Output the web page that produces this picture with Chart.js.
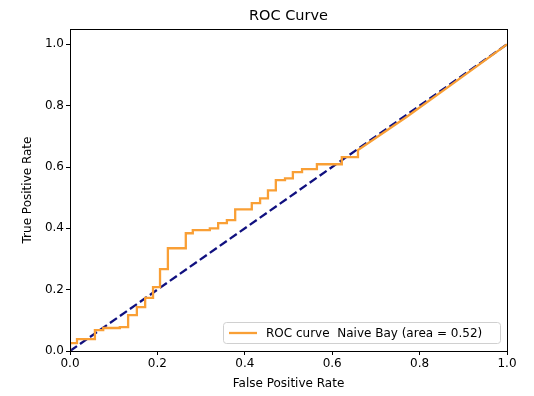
<!DOCTYPE html>
<html>
<head>
<meta charset="utf-8">
<script src="https://cdn.jsdelivr.net/npm/chart.js@4.4.1/dist/chart.umd.min.js"></script>
<style>
	html, body { margin: 0; padding: 0; background: #fff; }
	#wrap { width: 534px; height: 396px; }
</style>
</head>
<body>
<div id="wrap"><canvas id="myChart" width="534" height="396"></canvas></div>
<script>
// ROC curve vertices
var fpr = [0, 0, 0.016, 0.016, 0.057, 0.057, 0.076, 0.076, 0.114, 0.114, 0.133, 0.133,
	0.153, 0.153, 0.172, 0.172, 0.19, 0.19, 0.206, 0.206, 0.224, 0.224, 0.265, 0.265,
	0.281, 0.281, 0.32, 0.32, 0.339, 0.339, 0.359, 0.359, 0.378, 0.378, 0.416, 0.416,
	0.435, 0.435, 0.453, 0.453, 0.471, 0.471, 0.492, 0.492, 0.51, 0.51, 0.531, 0.531,
	0.565, 0.565, 0.622, 0.622, 0.659, 0.659, 0.77, 0.88, 1];
var tpr = [0, 0.026, 0.026, 0.039, 0.039, 0.068, 0.068, 0.075, 0.075, 0.078, 0.078, 0.117,
	0.117, 0.143, 0.143, 0.173, 0.173, 0.208, 0.208, 0.267, 0.267, 0.335, 0.335, 0.384,
	0.384, 0.394, 0.394, 0.40, 0.40, 0.417, 0.417, 0.427, 0.427, 0.462, 0.462, 0.482,
	0.482, 0.498, 0.498, 0.524, 0.524, 0.557, 0.557, 0.563, 0.563, 0.583, 0.583, 0.593,
	0.593, 0.609, 0.609, 0.632, 0.632, 0.655, 0.763, 0.876, 1];
var chanceX = [0, 1];
var chanceY = [0, 1];
var rocLabel = "ROC curve  Naive Bay (area = 0.52)";
var chartTitle = "ROC Curve";
var xTitle = "False Positive Rate";
var yTitle = "True Positive Rate";

var FONT = "'DejaVu Sans', sans-serif";

function toPoints(xs, ys) {
	var pts = [];
	for (var i = 0; i < xs.length; i++) pts.push({x: xs[i], y: ys[i]});
	return pts;
}

// frame, title and legend drawn like matplotlib
var mplPlugin = {
	id: "mpl",
	afterDraw: function(chart) {
		var ctx = chart.ctx;
		var a = chart.chartArea;
		ctx.save();
		ctx.strokeStyle = "#000";
		ctx.lineWidth = 1;
		ctx.strokeRect(a.left + 0.5, a.top + 0.5, a.right - a.left, a.bottom - a.top);

		ctx.fillStyle = "#000";
		ctx.font = "14.5px " + FONT;
		ctx.textAlign = "center";
		ctx.textBaseline = "middle";
		ctx.fillText(chartTitle, (a.left + a.right) / 2, 16);

		// legend box, lower right
		var bx = 223, by = 322, bw = 277, bh = 21;
		ctx.fillStyle = "rgba(255,255,255,0.8)";
		ctx.strokeStyle = "#d0d0d0";
		ctx.beginPath();
		ctx.roundRect(bx + 0.5, by + 0.5, bw, bh, 3);
		ctx.fill();
		ctx.stroke();
		var ds = chart.data.datasets[0];
		ctx.strokeStyle = ds.borderColor;
		ctx.lineWidth = 2.3;
		ctx.beginPath();
		ctx.moveTo(229, by + bh / 2 + 0.5);
		ctx.lineTo(257, by + bh / 2 + 0.5);
		ctx.stroke();
		ctx.fillStyle = "#000";
		ctx.font = "12px " + FONT;
		ctx.textAlign = "left";
		ctx.fillText(ds.label, 266, by + bh / 2 + 1);
		ctx.restore();
	}
};

var ctx = document.getElementById("myChart");

var myChart = new Chart(ctx, {
	type: "line",
	data: {
		datasets: [
			{
				label: rocLabel,
				data: toPoints(fpr, tpr),
				borderColor: "#f99f35",
				borderWidth: 2.3,
				fill: false,
				tension: 0,
				pointRadius: 0
			},
			{
				label: "chance",
				data: toPoints(chanceX, chanceY),
				borderColor: "#10107f",
				borderWidth: 2.3,
				borderDash: [8.5, 3.7],
				fill: false,
				tension: 0,
				pointRadius: 0
			}
		]
	},
	options: {
		responsive: false,
		animation: false,
		layout: { padding: { left: 0, right: 27, top: 29, bottom: 0 } },
		plugins: {
			legend: { display: false },
			title: { display: false },
			tooltip: { enabled: false }
		},
		scales: {
			x: {
				type: "linear",
				min: 0,
				max: 1,
				afterFit: function(s) { s.height = 45; },
				grid: { drawOnChartArea: false, drawTicks: true, tickLength: 4, color: "#000" },
				border: { color: "#000" },
				ticks: {
					stepSize: 0.2,
					color: "#000",
					padding: 2,
					maxRotation: 0,
					font: { family: FONT, size: 12 },
					callback: function(v) { return v.toFixed(1); }
				},
				title: {
					display: true,
					text: xTitle,
					color: "#000",
					padding: { top: 2, bottom: 5 },
					font: { family: FONT, size: 12 }
				}
			},
			y: {
				type: "linear",
				min: 0,
				max: 1.05,
				afterFit: function(s) { s.width = 70; },
				afterBuildTicks: function(s) {
					s.ticks = [0, 0.2, 0.4, 0.6, 0.8, 1.0].map(function(v) { return {value: v}; });
				},
				grid: { drawOnChartArea: false, drawTicks: true, tickLength: 4, color: "#000" },
				border: { color: "#000" },
				ticks: {
					color: "#000",
					padding: 2,
					font: { family: FONT, size: 12 },
					callback: function(v) { return v.toFixed(1); }
				},
				title: {
					display: true,
					text: yTitle,
					color: "#000",
					padding: { top: 21, bottom: 0 },
					font: { family: FONT, size: 12 }
				}
			}
		}
	},
	plugins: [mplPlugin]
});
</script>
</body>
</html>
